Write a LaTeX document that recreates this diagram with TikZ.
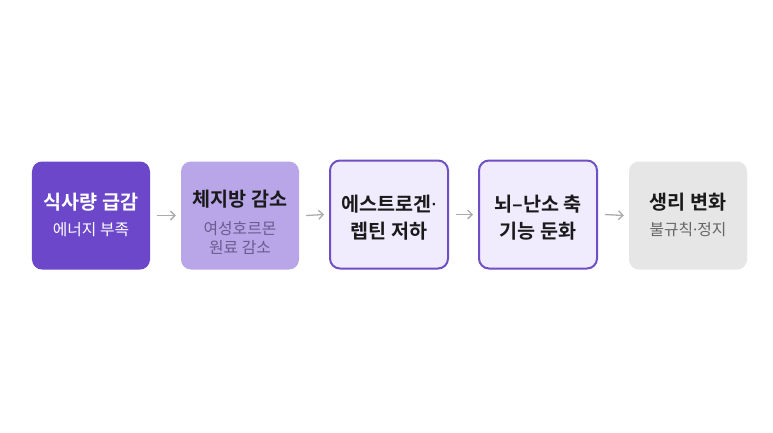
\documentclass[tikz,border=0pt]{standalone}
\usepackage{fontspec}
\setmainfont{Noto Sans CJK KR}[BoldFont={Noto Sans CJK KR Bold}]
\newfontfamily\latinfont{Noto Sans}
\usetikzlibrary{arrows.meta}
\definecolor{deep}{HTML}{6C47CA}
\definecolor{mid}{HTML}{B8A6E8}
\definecolor{pale}{HTML}{F1ECFD}
\definecolor{edge}{HTML}{6E50C4}
\definecolor{grayfill}{HTML}{E6E6E6}
\definecolor{arrowgray}{HTML}{ABABAB}
\definecolor{subpurple}{HTML}{6A5A8E}
\definecolor{subgray}{HTML}{666666}
\definecolor{ink}{HTML}{1A1A1A}
\newcommand{\tdot}{{\latinfont ·}}
\tikzset{
  box/.style={rounded corners=10bp, minimum width=118bp, minimum height=108bp, inner sep=0pt},
  title/.style={font=\fontsize{19.6bp}{27bp}\selectfont\bfseries, align=center, inner sep=0pt, text=ink},
  sub/.style={font=\fontsize{15.8bp}{19bp}\selectfont, align=center, inner sep=0pt},
  flow/.style={draw=arrowgray, line width=1.3bp, -{Straight Barb[length=4.5bp, width=9bp, line width=1.3bp]}}
}
\begin{document}
\begin{tikzpicture}[x=1bp, y=-1bp]
\useasboundingbox (0,0) rectangle (773,432);
\fill[white] (0,0) rectangle (773,432);
\node[box, fill=deep] (b1) at (91,215.5) {};
\node[box, fill=mid] (b2) at (240,215.5) {};
\node[box, fill=pale, draw=edge, line width=2bp] (b3) at (389,214.5) {};
\node[box, fill=pale, draw=edge, line width=2bp] (b4) at (538,214.5) {};
\node[box, fill=grayfill] (b5) at (688,215.5) {};
\node[title, text=white] (t1) at (91,202.5) {식사량 급감};
\node[sub, text=white] (s1) at (91,229.5) {에너지 부족};
\node[title] (t2) at (240,199.5) {체지방 감소};
\node[sub, text=subpurple] (s2) at (240,237.5) {여성호르몬\\원료 감소};
\node[title] (t3) at (389,218) {에스트로겐\tdot\\렙틴 저하};
\node[title] (t4) at (538,218) {뇌–난소 축\\기능 둔화};
\node[title] (t5) at (688,202.5) {생리 변화};
\node[sub, text=subgray] (s5) at (688,229.5) {불규칙\tdot 정지};
\draw[flow] ([xshift=7bp]b1.east) -- ([xshift=-5bp]b2.west);
\draw[flow] ([xshift=7bp]b2.east) -- ([xshift=-5bp]b3.west);
\draw[flow] ([xshift=7bp]b3.east) -- ([xshift=-5bp]b4.west);
\draw[flow] ([xshift=7bp]b4.east) -- ([xshift=-5bp]b5.west);
\end{tikzpicture}
\end{document}
